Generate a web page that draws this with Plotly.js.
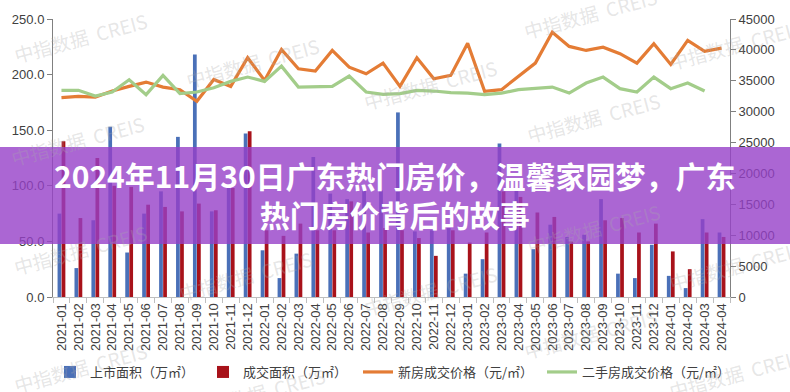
<!DOCTYPE html>
<html><head><meta charset="utf-8">
<script src="https://cdn.plot.ly/plotly-3.0.1.min.js"></script>
<style>html,body{margin:0;padding:0;background:#fff;}#chart{width:790px;height:392px;}</style>
</head><body><div id="chart"></div>
<script>
var months = ['2021-01','2021-02','2021-03','2021-04','2021-05','2021-06','2021-07','2021-08','2021-09','2021-10','2021-11','2021-12',
'2022-01','2022-02','2022-03','2022-04','2022-05','2022-06','2022-07','2022-08','2022-09','2022-10','2022-11','2022-12',
'2023-01','2023-02','2023-03','2023-04','2023-05','2023-06','2023-07','2023-08','2023-09','2023-10','2023-11','2023-12',
'2024-01','2024-02','2024-03','2024-04'];
var listedArea = [75,26,69,153,40,75,95,144,218,77,100,147, 42,17,39,126,93,88,96,96,166,59,60,62, 21,34,138,96,43,65,54,56,88,21,17,47, 19,8,70,58];
var soldArea = [140,71,125,100,99,83,81,77,84,78,98,149, 60,55,66,60,60,86,58,62,60,53,37,60, 49,58,95,90,76,72,50,50,69,71,58,66, 41,25,58,54];
var newPrice = [32270,32480,32370,33340,34090,34790,33980,33560,31670,35220,34090,38730,
35060,40070,36950,36570,39910,37210,36140,37860,34090,38730,35330,35870,
41090,33280,33560,35710,37860,42870,40560,39910,40440,39380,37860,40990,
37650,41530,39750,40280];
var resalePrice = [33450,33450,32530,33180,35170,32750,35870,32910,33180,33880,34900,35600,
34900,37370,33980,33980,34090,35760,33180,32800,32910,33450,33340,33080,
33010,32750,33010,33560,33770,33980,33010,34630,35600,33720,33180,35600,
33720,34630,33340];
var seriesNames = ['上市面积（万㎡）','成交面积（万㎡）','新房成交价格（元/㎡）','二手房成交价格（元/㎡）'];
var seriesColors = ['#4a70b8','#a8121a','#e47c35','#a3cd8a'];
var titleLines = ['2024年11月30日广东热门房价，温馨家园梦，广东','热门房价背后的故事'];
var watermark = '中指数据  CREIS';

var L = 53, R = 730, T = 19, B = 297, W = 790, H = 392;
function px(x){ return (x - L) / (R - L); }
function py(y){ return (B - y) / (B - T); }

var traces = [
  {type:'bar', x:months, y:listedArea, name:seriesNames[0], marker:{color:seriesColors[0]}, yaxis:'y', legend:'legend'},
  {type:'bar', x:months, y:soldArea, name:seriesNames[1], marker:{color:seriesColors[1]}, yaxis:'y', legend:'legend2'},
  {type:'scatter', mode:'lines', x:months, y:newPrice, name:seriesNames[2], line:{color:seriesColors[2], width:3.2}, yaxis:'y2', legend:'legend3'},
  {type:'scatter', mode:'lines', x:months.slice(0, resalePrice.length), y:resalePrice, name:seriesNames[3], line:{color:seriesColors[3], width:3.2}, yaxis:'y2', legend:'legend4'}
];

var wmPos = [[80,37],[252,62],[430,85],[593,117],[735,45],[590,14],
             [77,140],
             [80,250],[245,275],[430,290],[593,228],[735,265],
             [80,367],[258,392],[590,333],[735,373]];
var annotations = wmPos.map(function(p){
  return {xref:'paper', yref:'paper', x:px(p[0]), y:py(p[1]), xanchor:'center', yanchor:'middle', text:watermark, showarrow:false,
    textangle:-15, font:{family:'Noto Sans CJK SC', size:19, color:'rgba(170,170,170,0.30)'}};
});
annotations.push({xref:'paper', yref:'paper', x:px(395), y:py(194), xanchor:'center', yanchor:'middle',
  text:'<b>'+titleLines[0]+'</b><br><b>'+titleLines[1]+'</b>', showarrow:false, align:'center',
  font:{family:'Noto Sans CJK SC', size:30, color:'#ffffff'}});

function leg(xpx){
  return {orientation:'h', x:px(xpx), xanchor:'left', y:py(372), yanchor:'middle', bgcolor:'rgba(0,0,0,0)',
    font:{family:'Noto Sans CJK SC', size:13, color:'#404040'}};
}

var layout = {
  width:W, height:H,
  margin:{l:L, r:W-R, t:T, b:H-B, pad:0, autoexpand:false},
  paper_bgcolor:'#ffffff', plot_bgcolor:'#ffffff',
  barmode:'group', bargap:0.52, bargroupgap:0.08,
  font:{family:'Liberation Sans, Noto Sans CJK SC', size:13, color:'#404040'},
  xaxis:{type:'category', showline:true, linecolor:'#bfbfbf', linewidth:1, ticks:'outside', tickson:'boundaries',
    ticklen:5, tickcolor:'#bfbfbf', tickangle:-90, tickfont:{size:13, color:'#404040'}, showgrid:false, zeroline:false, automargin:false},
  yaxis:{range:[0,250], dtick:50, tickformat:'.1f', showline:true, linecolor:'#808080', ticks:'outside', ticklen:5,
    tickcolor:'#808080', showgrid:false, zeroline:false, tickfont:{size:13, color:'#404040'}, automargin:false},
  yaxis2:{range:[0,45000], dtick:5000, tickformat:'d', overlaying:'y', side:'right', showline:true, linecolor:'#808080',
    ticks:'outside', ticklen:5, tickcolor:'#808080', showgrid:false, zeroline:false, tickfont:{size:13, color:'#404040'}, automargin:false},
  showlegend:true,
  legend:leg(50), legend2:leg(203), legend3:leg(358), legend4:leg(542),
  shapes:[{type:'rect', xref:'paper', yref:'paper', x0:px(-5), x1:px(800), y0:py(244), y1:py(147), layer:'above',
    line:{width:0}, fillcolor:'rgba(150,64,200,0.8)'}],
  annotations:annotations
};
Plotly.newPlot('chart', traces, layout, {staticPlot:true, displayModeBar:false});
</script></body></html>
